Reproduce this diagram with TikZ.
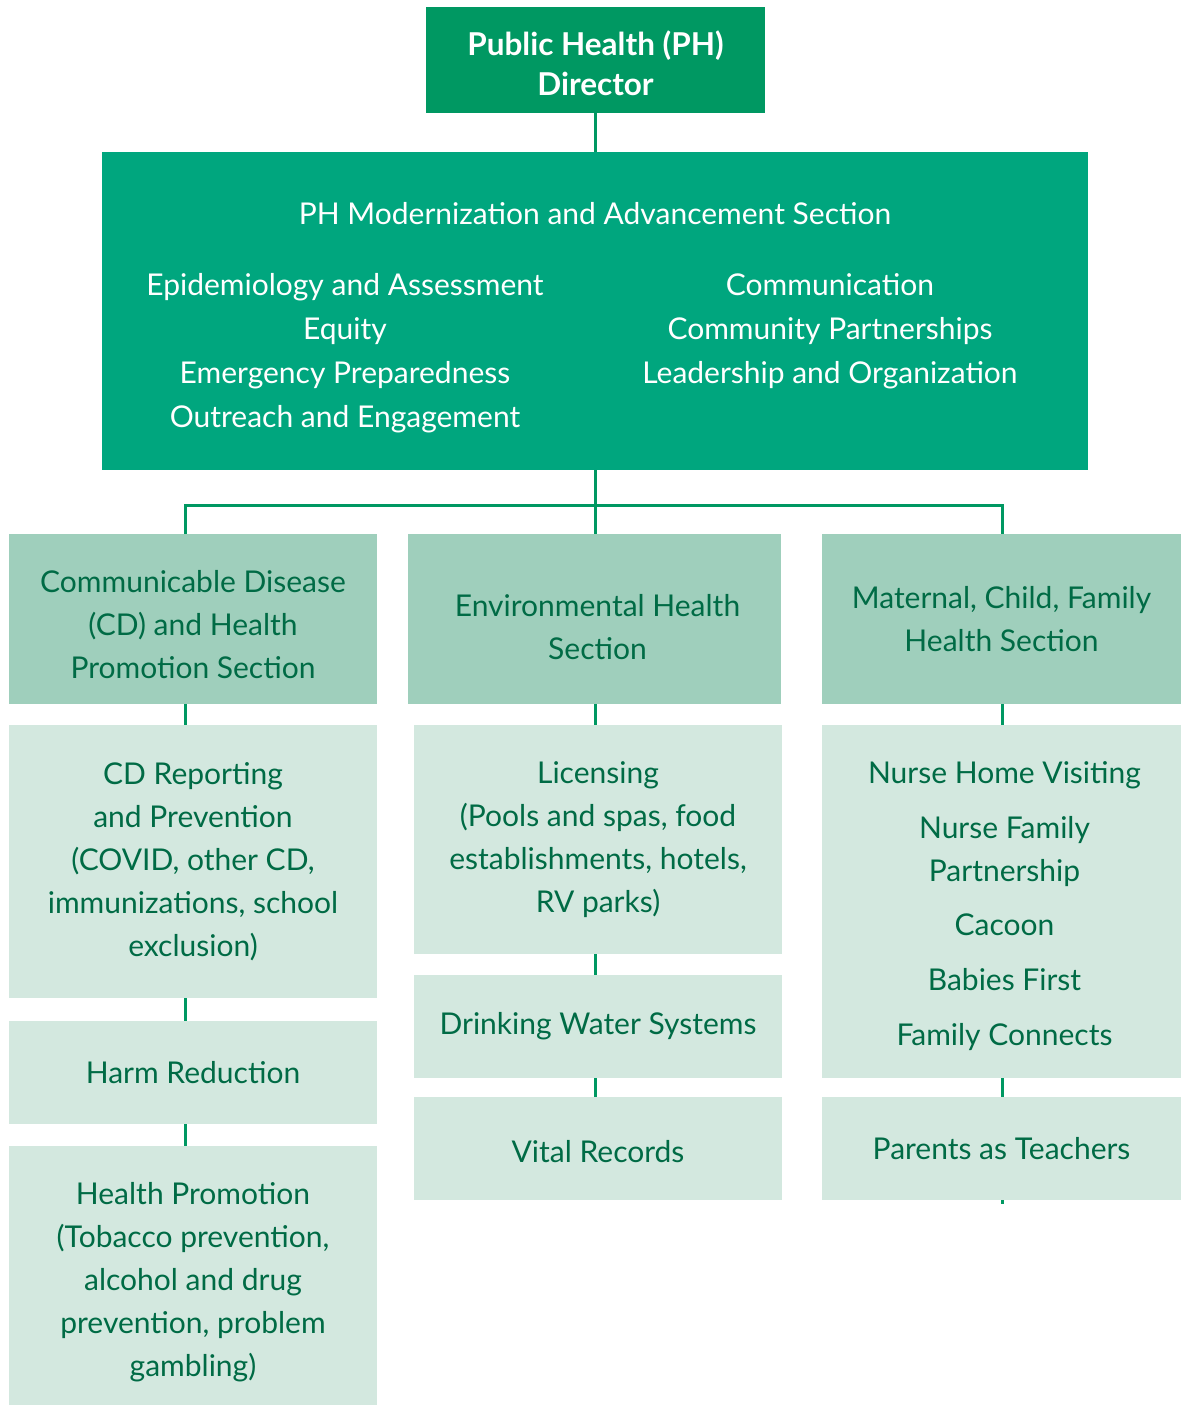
\documentclass[tikz,border=0pt]{standalone}
\usepackage{fontspec}
\setmainfont{Lato}
\usepackage{tikz}
\usetikzlibrary{positioning, calc}

\definecolor{dirgreen}{HTML}{009862}
\definecolor{modgreen}{HTML}{00A67E}
\definecolor{secgreen}{HTML}{9FCFBC}
\definecolor{subgreen}{HTML}{D3E8DF}
\definecolor{textgreen}{HTML}{006B45}

\begin{document}
\begin{tikzpicture}[x=1pt, y=-1pt,
    box/.style={anchor=north west, inner sep=0pt, outer sep=0pt, align=center,
      font=\fontsize{30}{43}\selectfont},
    dirbox/.style={box, fill=dirgreen},
    dirtext/.style={text=white, align=center, font=\fontsize{31.5}{40}\selectfont\bfseries},
    modbox/.style={box, fill=modgreen},
    modtext/.style={text=white, align=center, font=\fontsize{30}{44}\selectfont},
    secbox/.style={box, fill=secgreen, text=textgreen},
    subbox/.style={box, fill=subgreen, text=textgreen},
    boxtext/.style={text=textgreen, align=center, font=\fontsize{30}{43}\selectfont},
    link/.style={draw=dirgreen, line width=3pt}
  ]
  \useasboundingbox (0,0) rectangle (1182,1406);
  % Director and the modernization section
  \node[dirbox, minimum width=339pt, minimum height=106pt] (dir) at (426,7) {};
  \node[dirtext] (dirtxt) at ($(dir.center)+(0,3)$) {Public Health (PH)\\Director};
  \node[modbox, minimum width=986pt, minimum height=318pt] (mod) at (102,152) {};
  \node[modtext] (modtitle) at (595,214) {PH Modernization and Advancement Section};
  \node[modtext] (modleft) at (345,353)
    {Epidemiology and Assessment\\Equity\\Emergency Preparedness\\Outreach and Engagement};
  \node[modtext] (modright) at (830,331)
    {Communication\\Community Partnerships\\Leadership and Organization};
  % Three sections
  \node[secbox, minimum width=368pt, minimum height=170pt] (cdsec) at (9,534) {};
  \node[boxtext] (cdsectxt) at ($(cdsec.center)+(0,6)$)
    {Communicable Disease\\(CD) and Health\\Promotion Section};
  \node[secbox, minimum width=373pt, minimum height=170pt] (envsec) at (408,534) {};
  \node[boxtext] (envsectxt) at ($(envsec.center)+(3,8)$)
    {Environmental Health\\Section};
  \node[secbox, minimum width=359pt, minimum height=170pt] (mcfsec) at (822,534)
    {Maternal, Child, Family\\Health Section};
  % CD programs
  \node[subbox, minimum width=368pt, minimum height=273pt] (cdrep) at (9,725)
    {CD Reporting\\and Prevention\\(COVID, other CD,\\immunizations, school\\exclusion)};
  \node[subbox, minimum width=368pt, minimum height=103pt] (harm) at (9,1021)
    {Harm Reduction};
  \node[subbox, minimum width=368pt, minimum height=259pt] (hprom) at (9,1146) {};
  \node[boxtext] (hpromtxt) at ($(hprom.center)+(0,7)$)
    {Health Promotion\\(Tobacco prevention,\\alcohol and drug\\prevention, problem\\gambling)};
  % Environmental health programs
  \node[subbox, minimum width=368pt, minimum height=229pt] (lic) at (414,725)
    {Licensing\\(Pools and spas, food\\establishments, hotels,\\RV parks)};
  \node[subbox, minimum width=368pt, minimum height=103pt] (water) at (414,975)
    {Drinking Water Systems};
  \node[subbox, minimum width=368pt, minimum height=103pt] (vital) at (414,1097) {};
  \node[boxtext] (vitaltxt) at ($(vital.center)+(0,3)$) {Vital Records};
  % Maternal, child, family programs
  \node[subbox, minimum width=359pt, minimum height=353pt] (nurse) at (822,725) {};
  \node[boxtext] (nursetxt) at ($(nurse.center)+(3,5)$)
    {Nurse Home Visiting\\[12pt]Nurse Family\\Partnership\\[11pt]Cacoon\\[12pt]Babies First\\[12pt]Family Connects};
  \node[subbox, minimum width=359pt, minimum height=103pt] (pat) at (822,1097)
    {Parents as Teachers};
  % bus coordinates
  \coordinate (busl) at (185,505);
  \coordinate (busm) at (595,505);
  \coordinate (busr) at (1002,505);
  \coordinate (patend) at (1002,1204);
  % connectors
  \draw[link] (dir.south -| busm) -- (mod.north -| busm);
  \draw[link] (mod.south -| busm) -- (envsec.north -| busm);
  \draw[link] (cdsec.north -| busl) -- (busl) -- (busr) -- (mcfsec.north -| busr);
  \draw[link] (cdsec.south -| busl) -- (cdrep.north -| busl);
  \draw[link] (cdrep.south -| busl) -- (harm.north -| busl);
  \draw[link] (harm.south -| busl) -- (hprom.north -| busl);
  \draw[link] (envsec.south -| busm) -- (lic.north -| busm);
  \draw[link] (lic.south -| busm) -- (water.north -| busm);
  \draw[link] (water.south -| busm) -- (vital.north -| busm);
  \draw[link] (mcfsec.south -| busr) -- (nurse.north -| busr);
  \draw[link] (nurse.south -| busr) -- (pat.north -| busr);
  \draw[link] (pat.south -| busr) -- (patend);
\end{tikzpicture}
\end{document}
